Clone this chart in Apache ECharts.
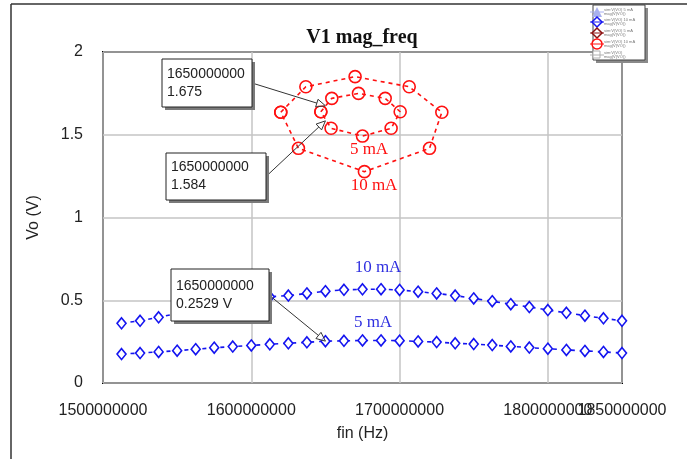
<!DOCTYPE html>
<html><head><meta charset="utf-8">
<script src="https://cdn.jsdelivr.net/npm/echarts@6.0.0/dist/echarts.min.js"></script>
<style>html,body{margin:0;padding:0;background:#fff}#c{width:687px;height:459px}</style>
</head><body><div id="c"></div>
<script>
// ---- data ----
const freqHz = [1512500000,1525000000,1537500000,1550000000,1562500000,1575000000,1587500000,1600000000,
  1612500000,1625000000,1637500000,1650000000,1662500000,1675000000,1687500000,1700000000,1712500000,
  1725000000,1737500000,1750000000,1762500000,1775000000,1787500000,1800000000,1812500000,1825000000,
  1837500000,1850000000];
const vo5mA = [0.175,0.181,0.188,0.195,0.204,0.213,0.220,0.227,0.234,0.240,0.246,0.2529,0.255,0.257,
  0.257,0.256,0.251,0.247,0.240,0.235,0.229,0.221,0.214,0.207,0.200,0.194,0.188,0.181];
const vo10mA = [0.361,0.376,0.397,0.420,0.440,0.460,0.480,0.500,0.521,0.528,0.541,0.555,0.563,0.566,
  0.567,0.562,0.552,0.541,0.528,0.511,0.494,0.476,0.459,0.441,0.424,0.407,0.391,0.376];
const loop10mA_f = [1619900000,1636800000,1670000000,1706500000,1728500000,1720200000,1676300000,1631800000];
const loop10mA_v = [1.636,1.790,1.851,1.790,1.636,1.418,1.277,1.418];
const loop5mA_f = [1646900000,1654300000,1672300000,1690300000,1700400000,1694300000,1675000000,1653800000];
const loop5mA_v = [1.639,1.720,1.750,1.720,1.639,1.539,1.492,1.539];
const xMaxTick = [1850000000];
const cursorF = [1650000000,1650000000,1650000000];
const cursorV = [1.675,1.584,0.2529];
const cursorText = [['1650000000','1.675'],['1650000000','1.584'],['1650000000','0.2529 V']];
const legendNames = ['sim:V(VO) 5 mA','sim:V(VO) 10 mA','sim:V(VO) 5 mA','sim:V(VO) 10 mA','sim:V(VO)'];

const BLUE = '#1414f0', RED = '#ff1010';
const SANS = 'Liberation Sans', SERIF = 'Liberation Serif';

function pairs(xs, ys, close) {
  const d = xs.map((x, i) => [x, ys[i]]);
  if (close) d.push([xs[0], ys[0]]);
  return d;
}

const chart = echarts.init(document.getElementById('c'), null, {renderer: 'canvas'});
const blueSeries = (name, ys) => ({
  name, type: 'line', data: pairs(freqHz, ys), symbol: 'diamond', symbolSize: [9, 11],
  itemStyle: {color: '#fff', borderColor: BLUE, borderWidth: 1.6},
  lineStyle: {color: BLUE, width: 1.6, type: [4, 5]}, animation: false, z: 3
});
const redSeries = (name, xs, ys) => ({
  name, type: 'line', data: pairs(xs, ys, true), symbol: 'circle', symbolSize: 12,
  itemStyle: {color: 'rgba(255,255,255,0)', borderColor: RED, borderWidth: 1.6},
  lineStyle: {color: RED, width: 1.6, type: [4, 4]}, animation: false, z: 3
});
const labelStyle = {fontFamily: SANS, fontSize: 16, color: '#222', margin: 20, formatter: v => String(v)};

chart.setOption({
  animation: false,
  grid: {left: 103, top: 52, right: 65, bottom: 76, show: true, borderColor: '#000', borderWidth: 2, backgroundColor: 'transparent'},
  xAxis: [{
    type: 'value', min: 1500000000, max: 1850000000, interval: 100000000,
    name: 'fin (Hz)', nameLocation: 'middle', nameGap: 43,
    nameTextStyle: {fontFamily: SANS, fontSize: 16, color: '#222'},
    axisLine: {show: false}, axisTick: {show: false},
    axisLabel: Object.assign({showMaxLabel: false}, labelStyle),
    splitLine: {show: true, lineStyle: {color: '#c4c4c4', width: 1.5}}
  }, {
    type: 'value', min: 1500000000, max: 1850000000, position: 'bottom', offset: 0,
    axisLine: {show: false}, axisTick: {show: false}, splitLine: {show: false},
    axisLabel: Object.assign({customValues: xMaxTick, showMaxLabel: true}, labelStyle)
  }],
  yAxis: {
    type: 'value', min: 0, max: 2, interval: 0.5,
    name: 'Vo (V)', nameLocation: 'middle', nameGap: 61,
    nameTextStyle: {fontFamily: SANS, fontSize: 16, color: '#222'},
    axisLine: {show: false}, axisTick: {show: false},
    axisLabel: {fontFamily: SANS, fontSize: 16, color: '#222', margin: 20},
    splitLine: {show: true, lineStyle: {color: '#c4c4c4', width: 1.5}}
  },
  series: [
    redSeries('10 mA loop', loop10mA_f, loop10mA_v),
    redSeries('5 mA loop', loop5mA_f, loop5mA_v),
    blueSeries('5 mA', vo5mA),
    blueSeries('10 mA', vo10mA)
  ]
});

// ---- overlays ----
const g = [];
g.push({type: 'line', shape: {x1: 11, y1: 4, x2: 687, y2: 4}, style: {stroke: '#333', lineWidth: 1.5}, z: 50});
g.push({type: 'line', shape: {x1: 11, y1: 4, x2: 11, y2: 459}, style: {stroke: '#333', lineWidth: 1.5}, z: 50});
g.push({type: 'text', x: 362, y: 38, z: 50, style: {text: 'V1 mag_freq', font: 'bold 20px ' + SERIF, fill: '#111', align: 'center', verticalAlign: 'middle'}});
const lbl = (t, x, y, c) => g.push({type: 'text', x, y, z: 50, style: {text: t, font: '17px ' + SERIF, fill: c, align: 'center', verticalAlign: 'middle'}});
lbl('5 mA', 369, 150, RED);
lbl('10 mA', 374, 186, RED);
lbl('10 mA', 378, 268, '#3030e0');
lbl('5 mA', 373, 323, '#3030e0');

const boxes = [
  {x: 162, y: 59, w: 90, h: 48},
  {x: 166, y: 153, w: 100, h: 47},
  {x: 171, y: 269, w: 98, h: 52}
];
boxes.forEach((b, i) => {
  const tgt = chart.convertToPixel({xAxisIndex: 0, yAxisIndex: 0}, [cursorF[i], cursorV[i]]);
  const sx = b.x + b.w, sy = b.y + b.h / 2;
  g.push({type: 'rect', z: 60, shape: {x: b.x + 3, y: b.y + 3, width: b.w, height: b.h}, style: {fill: '#7a7a7a'}});
  g.push({type: 'rect', z: 61, shape: {x: b.x, y: b.y, width: b.w, height: b.h}, style: {fill: '#fff', stroke: '#222', lineWidth: 1}});
  g.push({type: 'text', z: 62, x: b.x + 5, y: b.y + b.h / 2 - 9, style: {text: cursorText[i][0], font: '14px ' + SANS, fill: '#222', verticalAlign: 'middle'}});
  g.push({type: 'text', z: 62, x: b.x + 5, y: b.y + b.h / 2 + 9, style: {text: cursorText[i][1], font: '14px ' + SANS, fill: '#222', verticalAlign: 'middle'}});
  const dx = tgt[0] - sx, dy = tgt[1] - sy, L = Math.hypot(dx, dy), ux = dx / L, uy = dy / L;
  const bx = tgt[0] - ux * 9, by = tgt[1] - uy * 9;
  g.push({type: 'line', z: 59, shape: {x1: sx, y1: sy, x2: bx, y2: by}, style: {stroke: '#333', lineWidth: 1}});
  g.push({type: 'polygon', z: 59, shape: {points: [[tgt[0], tgt[1]], [bx - uy * 4, by + ux * 4], [bx + uy * 4, by - ux * 4]]}, style: {fill: 'rgba(255,255,255,0.6)', stroke: '#333', lineWidth: 1}});
});

g.push({type: 'rect', z: 70, shape: {x: 596, y: 8, width: 52, height: 55}, style: {fill: '#8a8a8a'}});
g.push({type: 'rect', z: 71, shape: {x: 593, y: 5, width: 52, height: 55}, style: {fill: '#fff', stroke: '#444', lineWidth: 1}});
const ly = [12, 22, 33, 44, 55];
const lcol = ['#a8b0ee', BLUE, '#8b1010', RED, '#b0b0b0'];
g.push({type: 'polygon', z: 72, shape: {points: [[597, 7], [592, 17], [602, 17]]}, style: {fill: lcol[0]}});
g.push({type: 'polygon', z: 72, shape: {points: [[597, 17], [602, 22], [597, 27], [592, 22]]}, style: {fill: '#fff', stroke: lcol[1], lineWidth: 1.5}});
g.push({type: 'polygon', z: 72, shape: {points: [[597, 28], [602, 33], [597, 38], [592, 33]]}, style: {fill: '#fff', stroke: lcol[2], lineWidth: 1.5}});
g.push({type: 'circle', z: 72, shape: {cx: 597, cy: 44, r: 5}, style: {fill: '#fff', stroke: lcol[3], lineWidth: 1.5}});
g.push({type: 'rect', z: 72, shape: {x: 593, y: 51, width: 7, height: 7}, style: {fill: '#fff', stroke: lcol[4], lineWidth: 1}});
ly.forEach((y, i) => {
  g.push({type: 'line', z: 72, shape: {x1: 590, y1: y, x2: 604, y2: y}, style: {stroke: lcol[i], lineWidth: 1}});
  g.push({type: 'text', z: 72, x: 604, y: y - 2, style: {text: legendNames[i], font: '4px ' + SANS, fill: '#777', verticalAlign: 'middle'}});
  g.push({type: 'text', z: 72, x: 604, y: y + 2, style: {text: 'mag(V(VO))', font: '4px ' + SANS, fill: '#777', verticalAlign: 'middle'}});
});
chart.setOption({graphic: {elements: g}});
</script>
</body></html>
